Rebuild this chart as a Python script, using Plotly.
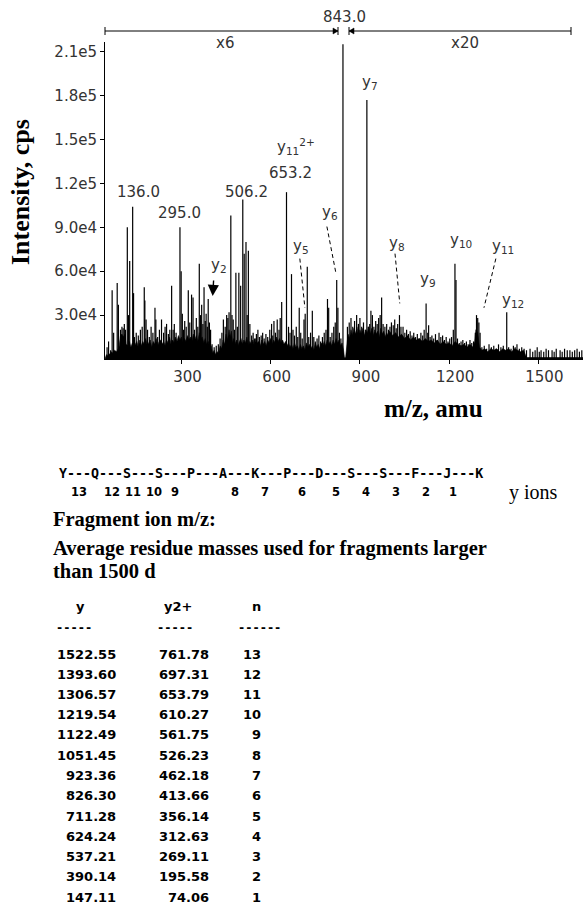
import plotly.graph_objects as go

# ---------------- spectrum data (m/z, intensity cps) ----------------
peak_mz = [50, 55, 62, 67, 72, 84, 88, 95, 100, 104, 108, 112, 118, 122, 126, 136, 139, 142, 148, 155,
           162, 168, 175, 177, 181, 186, 192, 198, 204, 211, 214, 220, 226, 233, 240, 245, 250, 256, 261, 267,
           272, 276, 282, 295, 299, 303, 307, 311, 316, 323, 328, 334, 339, 344, 350, 355, 360, 364, 368, 372,
           376, 380, 383, 387, 390, 394, 398, 403, 410, 417, 424, 430, 436, 441, 447, 452, 456, 460, 466, 470,
           474, 478, 483, 488, 493, 499, 506.2, 511, 517, 521, 525, 530, 536, 541, 546, 552, 557, 562, 568, 573,
           578, 584, 590, 597, 603, 607, 611, 616, 622, 628, 632, 637, 653.2, 660, 665, 670, 675, 680, 686, 691,
           696, 701, 706, 712, 716, 723, 728, 734, 740, 745, 750, 756, 762, 768, 774, 780, 786, 791, 795, 800,
           806, 812, 817, 822, 826, 831, 836, 843.0, 858, 864, 870, 876, 882, 889, 895, 900, 906, 912, 918,
           923.4, 928, 933, 937, 942, 947, 953, 958, 963, 968, 973, 978, 984, 990, 996, 1001, 1006, 1012, 1017,
           1022, 1027, 1033, 1038, 1045, 1051, 1057, 1063, 1069, 1075, 1081, 1087, 1093, 1099, 1105, 1111, 1116,
           1122.5, 1128, 1131, 1136, 1142, 1148, 1154, 1160, 1166, 1172, 1178, 1184, 1190, 1196, 1202, 1208,
           1214, 1219.5, 1223, 1228, 1234, 1240, 1246, 1252, 1258, 1264, 1270, 1276, 1282, 1288, 1292, 1296,
           1300, 1304, 1310, 1318, 1326, 1334, 1342, 1350, 1358, 1366, 1374, 1382, 1393.6, 1400, 1408, 1416,
           1422, 1428, 1436, 1444, 1452, 1460, 1472, 1481, 1489, 1496, 1503, 1509, 1518, 1526, 1534, 1546,
           1553, 1560, 1573, 1580, 1588, 1597, 1606, 1614, 1622, 1630, 1638, 1646]
peak_int = [8e3, 12e3, 6e3, 47e3, 18e3, 52e3, 37e3, 20e3, 22e3, 21e3, 24e3, 20e3, 90e3, 30e3, 67e3, 104e3, 45e3, 15e3, 18e3, 16e3,
            20e3, 22e3, 49e3, 40e3, 27e3, 20e3, 15e3, 22e3, 18e3, 35e3, 27e3, 15e3, 20e3, 27e3, 18e3, 22e3, 24e3, 17e3, 20e3, 50e3,
            20e3, 24e3, 18e3, 90e3, 60e3, 31e3, 20e3, 26e3, 22e3, 47e3, 25e3, 44e3, 42e3, 20e3, 28e3, 22e3, 65e3, 30e3, 37e3, 24e3,
            49e3, 26e3, 31e3, 22e3, 41e3, 25e3, 20e3, 10e3, 8e3, 9e3, 10e3, 14e3, 18e3, 27e3, 22e3, 30e3, 28e3, 32e3, 98e3, 30e3,
            27e3, 20e3, 59e3, 22e3, 59e3, 50e3, 109e3, 72e3, 80e3, 30e3, 74e3, 24e3, 16e3, 18e3, 14e3, 17e3, 20e3, 15e3, 16e3, 18e3,
            14e3, 17e3, 15e3, 20e3, 24e3, 16e3, 26e3, 18e3, 27e3, 20e3, 28e3, 39e3, 114e3, 22e3, 18e3, 58e3, 20e3, 16e3, 22e3, 15e3,
            35e3, 18e3, 14e3, 27e3, 31e3, 63e3, 15e3, 18e3, 33e3, 15e3, 12e3, 14e3, 16e3, 12e3, 15e3, 18e3, 20e3, 41e3, 35e3, 15e3,
            18e3, 22e3, 25e3, 54e3, 35e3, 18e3, 14e3, 215e3, 22e3, 25e3, 28e3, 22e3, 26e3, 30e3, 24e3, 28e3, 22e3, 25e3, 20e3,
            177e3, 22e3, 24e3, 33e3, 30e3, 22e3, 26e3, 24e3, 28e3, 30e3, 42e3, 24e3, 22e3, 24e3, 20e3, 22e3, 25e3, 23e3, 27e3,
            21e3, 24e3, 30e3, 22e3, 22e3, 18e3, 20e3, 17e3, 19e3, 16e3, 18e3, 15e3, 17e3, 14e3, 18e3, 16e3, 20e3,
            38e3, 18e3, 23e3, 15e3, 16e3, 14e3, 17e3, 13e3, 18e3, 15e3, 16e3, 13e3, 15e3, 12e3, 14e3, 15e3,
            20e3, 65e3, 54e3, 14e3, 11e3, 12e3, 13e3, 11e3, 12e3, 10e3, 13e3, 11e3, 12e3, 18e3, 30e3, 28e3,
            25e3, 18e3, 8e3, 9e3, 7e3, 10e3, 8e3, 9e3, 7e3, 10e3, 8e3, 9e3, 32e3, 8e3, 7e3, 9e3,
            8e3, 10e3, 7e3, 8e3, 7e3, 6e3, 7e3, 5e3, 6e3, 8e3, 5e3, 6e3, 5e3, 7e3, 6e3, 6e3,
            5e3, 7e3, 6e3, 5e3, 7e3, 6e3, 6e3, 5e3, 6e3, 7e3, 5e3, 6e3]

# dense low-level noise envelope (jagged)
floor_mz = [43, 48, 52, 55, 60, 64, 68, 75, 82, 90, 95, 100, 105, 110, 114, 120, 125, 130, 135, 140,
            145, 150, 155, 160, 165, 170, 175, 180, 185, 190, 195, 200, 205, 210, 215, 220, 225, 230, 235, 240,
            245, 250, 255, 260, 265, 270, 275, 280, 285, 290, 295, 300, 305, 310, 315, 320, 325, 330, 335, 340,
            345, 350, 355, 360, 365, 370, 375, 380, 385, 390, 395, 400, 405, 410, 415, 420, 425, 430, 435, 440,
            445, 450, 455, 460, 464, 468, 472, 476, 480, 485, 490, 495, 500, 505, 510, 515, 520, 525, 530, 535,
            540, 545, 550, 555, 560, 565, 570, 575, 580, 585, 590, 595, 600, 605, 610, 615, 620, 625, 630, 635,
            640, 645, 650, 655, 660, 665, 670, 675, 680, 685, 690, 695, 700, 705, 710, 715, 720, 725, 730, 735,
            740, 745, 750, 755, 760, 765, 770, 775, 780, 785, 790, 795, 800, 805, 810, 815, 820, 825, 830, 835,
            840, 845, 848, 852, 856, 860, 865, 870, 875, 880, 885, 890, 895, 900, 905, 910, 915, 920, 925, 930,
            935, 940, 945, 950, 955, 960, 965, 970, 975, 980, 985, 990, 995, 1000, 1010, 1020, 1030, 1040, 1050, 1060,
            1070, 1080, 1090, 1100, 1110, 1120, 1130, 1140, 1150, 1160, 1170, 1180, 1190, 1200, 1210, 1220, 1230, 1240,
            1250, 1260, 1270, 1280, 1286, 1290, 1296, 1302, 1310, 1320, 1330, 1340, 1350, 1360, 1370, 1380, 1390, 1400,
            1410, 1420, 1430, 1440, 1450, 1456, 1460, 1650]
floor_int = [0, 3e3, 2e3, 4e3, 3e3, 5e3, 4e3, 6e3, 5e3, 8e3, 16e3, 17e3, 15e3, 17e3, 10e3, 9e3, 12e3, 8e3, 11e3, 7e3,
             10e3, 12e3, 8e3, 13e3, 9e3, 12e3, 10e3, 14e3, 9e3, 11e3, 13e3, 8e3, 12e3, 10e3, 14e3, 9e3, 12e3, 13e3, 10e3, 12e3,
             9e3, 13e3, 11e3, 15e3, 10e3, 13e3, 11e3, 15e3, 12e3, 16e3, 13e3, 15e3, 11e3, 14e3, 12e3, 16e3, 13e3, 15e3, 12e3, 17e3,
             13e3, 16e3, 12e3, 18e3, 14e3, 15e3, 11e3, 14e3, 10e3, 12e3, 8e3, 9e3, 4e3, 6e3, 3e3, 5e3, 4e3, 9e3, 7e3, 13e3,
             10e3, 17e3, 13e3, 20e3, 15e3, 19e3, 11e3, 14e3, 10e3, 13e3, 9e3, 12e3, 14e3, 10e3, 13e3, 11e3, 15e3, 9e3, 12e3, 10e3,
             13e3, 9e3, 14e3, 11e3, 12e3, 9e3, 13e3, 10e3, 12e3, 9e3, 13e3, 11e3, 14e3, 10e3, 13e3, 11e3, 15e3, 12e3, 14e3, 11e3,
             13e3, 10e3, 12e3, 9e3, 11e3, 8e3, 10e3, 7e3, 11e3, 8e3, 9e3, 6e3, 10e3, 7e3, 9e3, 6e3, 11e3, 8e3, 10e3, 7e3,
             9e3, 6e3, 11e3, 8e3, 10e3, 7e3, 11e3, 9e3, 12e3, 9e3, 13e3, 10e3, 12e3, 9e3, 13e3, 10e3, 14e3, 11e3, 13e3, 9e3,
             11e3, 6e3, 1e3, 1e3, 10e3, 17e3, 14e3, 20e3, 16e3, 21e3, 17e3, 22e3, 16e3, 20e3, 17e3, 21e3, 16e3, 20e3, 18e3, 22e3,
             17e3, 21e3, 16e3, 20e3, 17e3, 19e3, 15e3, 21e3, 17e3, 19e3, 15e3, 18e3, 16e3, 19e3, 16e3, 18e3, 15e3, 17e3, 14e3, 16e3,
             13e3, 15e3, 13e3, 14e3, 12e3, 14e3, 12e3, 13e3, 11e3, 13e3, 10e3, 12e3, 10e3, 11e3, 9e3, 12e3, 10e3, 9e3,
             10e3, 8e3, 10e3, 8e3, 12e3, 20e3, 18e3, 8e3, 6e3, 7e3, 5e3, 7e3, 6e3, 7e3, 5e3, 7e3, 6e3, 7e3,
             5e3, 7e3, 6e3, 5e3, 6e3, 2e3, 1e3, 1e3]

y_tick_vals = [30000, 60000, 90000, 120000, 150000, 180000, 210000]
y_tick_text = ["3.0e4", "6.0e4", "9.0e4", "1.2e5", "1.5e5", "1.8e5", "2.1e5"]
x_tick_vals = [300, 600, 900, 1200, 1500]
x_tick_text = ["300", "600", "900", "1200", "1500"]

# peak labels: (text, m/z, intensity)
label_text = ["136.0", "295.0", "506.2", "653.2", "y<sub>11</sub><sup>2+</sup>", "y<sub>7</sub>", "y<sub>6</sub>",
              "y<sub>5</sub>", "y<sub>2</sub>", "y<sub>8</sub>", "y<sub>9</sub>", "y<sub>10</sub>", "y<sub>11</sub>",
              "y<sub>12</sub>", "x6", "x20"]
label_mz = [157, 295, 519, 665, 686, 933, 799, 702, 426, 1024, 1128, 1240, 1380, 1413, 446, 1253]
label_int = [114e3, 100e3, 114e3, 127e3, 145e3, 189e3, 100e3, 77e3, 64e3, 79e3, 54e3, 81e3, 77e3, 40e3, 216e3, 216e3]

# sequence / table
seq_text = "Y---Q---S---S---P---A---K---P---D---S---S---F---J---K"
ion_numbers = ["13", "12", "11", "10", "9", "8", "7", "6", "5", "4", "3", "2", "1"]
col_y = ["1522.55", "1393.60", "1306.57", "1219.54", "1122.49", "1051.45", "923.36", "826.30",
         "711.28", "624.24", "537.21", "390.14", "147.11"]
col_y2 = ["761.78", "697.31", "653.79", "610.27", "561.75", "526.23", "462.18", "413.66",
          "356.14", "312.63", "269.11", "195.58", "74.06"]
col_n = ["13", "12", "11", "10", "9", "8", "7", "6", "5", "4", "3", "2", "1"]

# ---------------- geometry helpers ----------------
W, H = 583, 911
L, T, B = 105, 42, 552
PW, PH = W - L, H - T - B
def xp(px):
    return (px - L) / PW
def yp(py):
    return (H - B - py) / PH

fig = go.Figure()

fig.add_trace(go.Scatter(x=floor_mz, y=floor_int, mode="lines", fill="tozeroy",
                         fillcolor="black", line=dict(color="black", width=0.6),
                         hoverinfo="skip", showlegend=False))
sx, sy = [], []
for m, v in zip(peak_mz, peak_int):
    sx += [m, m, None]
    sy += [0, v, None]
fig.add_trace(go.Scatter(x=sx, y=sy, mode="lines", line=dict(color="black", width=1.2),
                         hoverinfo="skip", showlegend=False))

tickfont = dict(family="DejaVu Sans", size=15, color="#333")
fig.update_layout(
    width=W, height=H, margin=dict(l=L, r=0, t=T, b=B, pad=0),
    paper_bgcolor="white", plot_bgcolor="white", showlegend=False,
    xaxis=dict(range=[43, 1650], tickvals=x_tick_vals, ticktext=x_tick_text, showgrid=False,
               zeroline=False, showline=True, linecolor="black", linewidth=1,
               ticks="outside", ticklen=4, tickcolor="black", tickfont=tickfont, ticklabelshift=6),
    yaxis=dict(range=[0, 216600], tickvals=y_tick_vals, ticktext=y_tick_text, showgrid=False,
               zeroline=False, showline=True, linecolor="black", linewidth=1,
               ticks="outside", ticklen=4, tickcolor="black", tickfont=tickfont),
)

ann = []
for t, m, v in zip(label_text, label_mz, label_int):
    ann.append(dict(x=m, y=v, xref="x", yref="y", text=t, showarrow=False,
                    font=tickfont, xanchor="center", yanchor="middle"))
# y2 arrow
ann.append(dict(x=405, y=43000, xref="x", yref="y", text="", showarrow=True, ax=1, ay=-17,
                arrowhead=2, arrowsize=1.6, arrowwidth=1.4, arrowcolor="black"))
# top bracket label
ann.append(dict(x=xp(344), y=yp(17), xref="paper", yref="paper", text="843.0", showarrow=False,
                font=tickfont, xanchor="center", yanchor="middle"))
# axis titles
ann.append(dict(x=xp(21), y=yp(192), xref="paper", yref="paper", text="<b>Intensity, cps</b>",
                textangle=-90, showarrow=False, font=dict(family="Liberation Serif", size=26, color="black"),
                xanchor="center", yanchor="middle"))
ann.append(dict(x=xp(433), y=yp(408), xref="paper", yref="paper", text="<b>m/z, amu</b>",
                showarrow=False, font=dict(family="Liberation Serif", size=25, color="black"),
                xanchor="center", yanchor="middle"))

# sequence lines
ann.append(dict(x=xp(57), y=yp(473), xref="paper", yref="paper", text="<b>" + seq_text + "</b>",
                showarrow=False, font=dict(family="DejaVu Sans Mono", size=13.3, color="black"),
                xanchor="left", yanchor="middle"))
num_px = [79, 112, 133, 154, 175, 235, 265, 302, 336, 366, 396, 426, 453]
for t, p in zip(ion_numbers, num_px):
    ann.append(dict(x=xp(p), y=yp(492), xref="paper", yref="paper", text="<b>" + t + "</b>",
                    showarrow=False, font=dict(family="DejaVu Sans", size=11.5, color="black"),
                    xanchor="center", yanchor="middle"))
ann.append(dict(x=xp(507), y=yp(492), xref="paper", yref="paper", text="y ions", showarrow=False,
                font=dict(family="Liberation Serif", size=20, color="black"), xanchor="left", yanchor="middle"))

serifb = dict(family="Liberation Serif", size=20.5, color="black")
for t, py in [("Fragment ion m/z:", 519), ("Average residue masses used for fragments larger", 548),
              ("than 1500 d", 571)]:
    ann.append(dict(x=xp(51), y=yp(py), xref="paper", yref="paper", text="<b>" + t + "</b>",
                    showarrow=False, font=serifb, xanchor="left", yanchor="middle"))

tabfont = dict(family="DejaVu Sans", size=13, color="black")
for t, p in [("y", 80), ("y2+", 178), ("n", 256)]:
    ann.append(dict(x=xp(p), y=yp(606), xref="paper", yref="paper", text="<b>" + t + "</b>",
                    showarrow=False, font=tabfont, xanchor="center", yanchor="middle"))
for t, p in [("-----", 74), ("-----", 175), ("------", 259)]:
    ann.append(dict(x=xp(p), y=yp(628), xref="paper", yref="paper", text="<b>" + t + "</b>",
                    showarrow=False, font=dict(family="DejaVu Sans Mono", size=12, color="black"),
                    xanchor="center", yanchor="middle"))
for i in range(len(col_y)):
    py = 654 + i * 20.25
    for t, p in [(col_y[i], 118), (col_y2[i], 211), (col_n[i], 263)]:
        ann.append(dict(x=xp(p), y=yp(py), xref="paper", yref="paper", text="<b>" + t + "</b>",
                        showarrow=False, font=tabfont, xanchor="right", yanchor="middle"))

fig.update_layout(annotations=ann)

# shapes: bracket and dashed leaders
shapes = []
def pline(x0, y0, x1, y1, w=1):
    return dict(type="line", xref="paper", yref="paper", x0=xp(x0), y0=yp(y0), x1=xp(x1), y1=yp(y1),
                line=dict(color="black", width=w))
shapes.append(pline(105, 31, 338, 31))
shapes.append(pline(349, 31, 571, 31))
for px in [105, 338, 349, 571]:
    shapes.append(pline(px, 27, px, 35))
shapes.append(dict(type="path", xref="paper", yref="paper",
                   path=f"M {xp(333)} {yp(28)} L {xp(338)} {yp(31)} L {xp(333)} {yp(34)} Z",
                   fillcolor="black", line=dict(color="black", width=0.5)))
shapes.append(dict(type="path", xref="paper", yref="paper",
                   path=f"M {xp(354)} {yp(28)} L {xp(349)} {yp(31)} L {xp(354)} {yp(34)} Z",
                   fillcolor="black", line=dict(color="black", width=0.5)))
for (x0, y0, x1, y1) in [(789, 90500, 819, 59000), (698, 68600, 715, 35000),
                         (1018, 72000, 1034, 38000), (1357, 68600, 1317, 35000)]:
    shapes.append(dict(type="line", xref="x", yref="y", x0=x0, y0=y0, x1=x1, y1=y1,
                       line=dict(color="black", width=1, dash="4px,3px")))
fig.update_layout(shapes=shapes)

fig.write_html("out.html", config={"displayModeBar": False},
               post_script="document.body.style.margin='0px';")
